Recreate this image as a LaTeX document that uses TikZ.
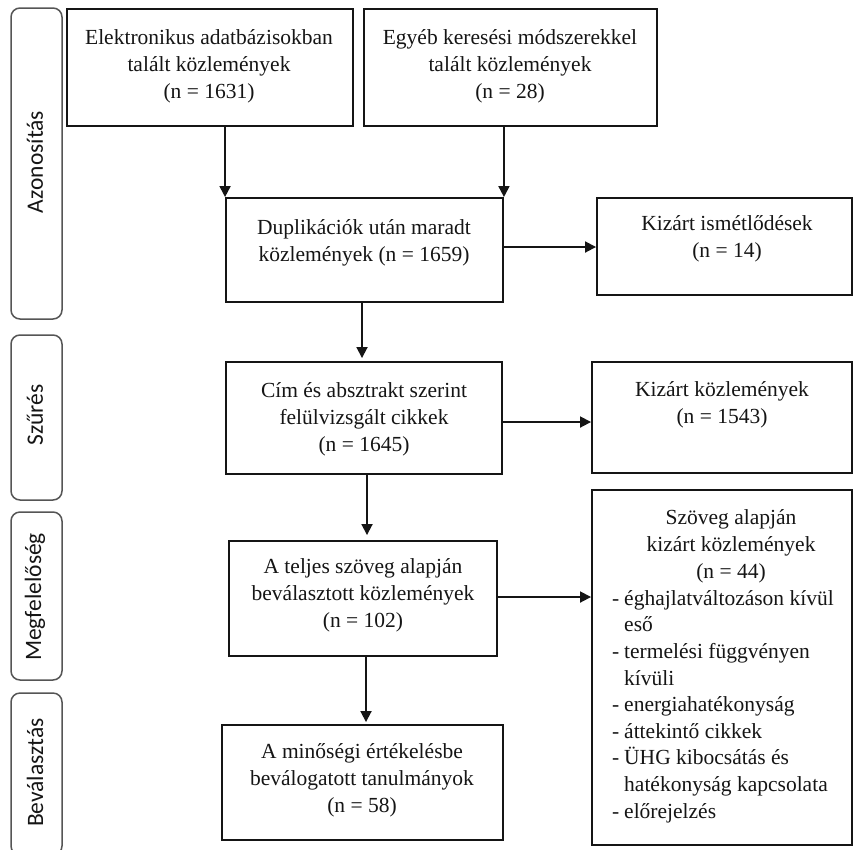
\documentclass[tikz,border=0pt]{standalone}
\usepackage{fontspec}
\setmainfont{Liberation Serif}
\newfontfamily\sidefont{Carlito}
\usetikzlibrary{arrows.meta}
\definecolor{ink}{HTML}{151515}
\definecolor{sidegray}{HTML}{555555}
\tikzset{
  box/.style={draw=ink, line width=1.9pt, rectangle, inner sep=0pt, fill=white},
  txt/.style={align=center, inner sep=0pt, text=ink, font=\fontsize{21.5}{27}\selectfont},
  listtxt/.style={align=left, inner sep=0pt, text=ink, font=\fontsize{21.5}{26.6}\selectfont},
  side/.style={draw=sidegray, line width=1.5pt, rounded corners=9pt, rectangle, inner sep=0pt},
  sidetxt/.style={rotate=90, inner sep=0pt, text=ink, font=\sidefont\fontsize{23.5}{28}\selectfont},
  arr/.style={draw=ink, line width=1.8pt, -{Triangle[length=11pt,width=11pt]}}
}
\begin{document}
\begin{tikzpicture}[x=1pt,y=-1pt]
\useasboundingbox (0,0) rectangle (853,849);
% side boxes
\node[side, minimum width=51pt, minimum height=311pt] (s1) at (36.5,163.5) {};
\node[side, minimum width=51pt, minimum height=165pt] (s2) at (36.5,417.5) {};
\node[side, minimum width=51pt, minimum height=168pt] (s3) at (36.5,596) {};
\node[side, minimum width=51pt, minimum height=162pt] (s4) at (36.5,774) {};
\node[sidetxt] (s1t) at (35,162) {Azonosítás};
\node[sidetxt] (s2t) at (35,415) {Szűrés};
\node[sidetxt] (s3t) at (35,597) {Megfelelőség};
\node[sidetxt] (s4t) at (35,772.5) {Beválasztás};
% boxes
\node[box, minimum width=286pt, minimum height=117pt] (e1) at (210,67.5) {};
\node[box, minimum width=293pt, minimum height=117pt] (e2) at (510.5,67.5) {};
\node[box, minimum width=277pt, minimum height=104pt] (dup) at (364.5,250) {};
\node[box, minimum width=255pt, minimum height=97pt] (kis) at (724.5,246.5) {};
\node[box, minimum width=276pt, minimum height=112pt] (cim) at (364,418) {};
\node[box, minimum width=260pt, minimum height=111pt] (kk) at (722,417.5) {};
\node[box, minimum width=268pt, minimum height=115pt] (tel) at (363,598.5) {};
\node[box, minimum width=260pt, minimum height=355pt] (szov) at (722,667.5) {};
\node[box, minimum width=281pt, minimum height=115pt] (mins) at (362.5,782.5) {};
% texts
\node[txt] (e1t) at (209,66.7) {Elektronikus adatbázisokban\\talált közlemények\\(n = 1631)};
\node[txt] (e2t) at (510,66.7) {Egyéb keresési módszerekkel\\talált közlemények\\(n = 28)};
\node[txt] (dupt) at (364,242.5) {Duplikációk után maradt\\közlemények (n = 1659)};
\node[txt] (kist) at (727,238.5) {Kizárt ismétlődések\\(n = 14)};
\node[txt] (cimt) at (364,419) {Cím és absztrakt szerint\\felülvizsgált cikkek\\(n = 1645)};
\node[txt] (kkt) at (722,405) {Kizárt közlemények\\(n = 1543)};
\node[txt] (telt) at (363,595.3) {A teljes szöveg alapján\\beválasztott közlemények\\(n = 102)};
\node[txt] (minst) at (362,780) {A minőségi értékelésbe\\beválogatott tanulmányok\\(n = 58)};
\node[txt] (szovt) at (731,546) {Szöveg alapján\\kizárt közlemények\\(n = 44)};
\node[listtxt, anchor=west] (szovl) at (612,706.5) {%
\makebox[12pt][l]{-}éghajlatváltozáson kívül\\
\hspace*{12pt}eső\\
\makebox[12pt][l]{-}termelési függvényen\\
\hspace*{12pt}kívüli\\
\makebox[12pt][l]{-}energiahatékonyság\\
\makebox[12pt][l]{-}áttekintő cikkek\\
\makebox[12pt][l]{-}ÜHG kibocsátás és\\
\hspace*{12pt}hatékonyság kapcsolata\\
\makebox[12pt][l]{-}előrejelzés};
% connectors
\draw[arr] (dup.north west |- e1.south) -- (dup.north west);
\draw[arr] (dup.north east |- e2.south) -- (dup.north east);
\draw[arr] (dup.east |- 0,247) -- (kis.west |- 0,247);
\draw[arr, shorten >=3pt] (dup.south -| 362,0) -- (cim.north -| 362,0);
\draw[arr] (cim.east |- 0,422) -- (kk.west |- 0,422);
\draw[arr, shorten >=5pt] (cim.south -| 367,0) -- (tel.north -| 367,0);
\draw[arr] (tel.east |- 0,597) -- (szov.west |- 0,597);
\draw[arr, shorten >=2pt] (tel.south -| 366,0) -- (mins.north -| 366,0);
\end{tikzpicture}
\end{document}
